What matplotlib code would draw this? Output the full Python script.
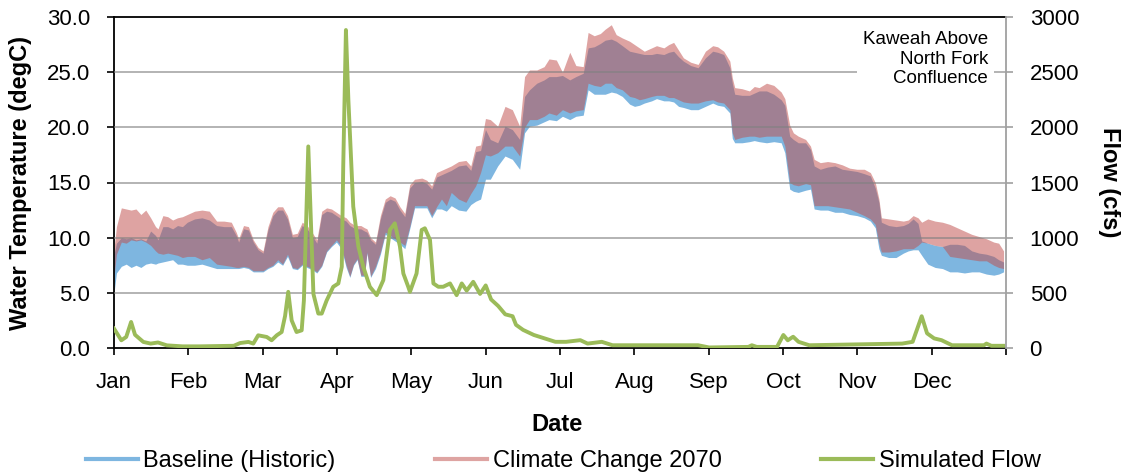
import matplotlib
matplotlib.use('Agg')
import matplotlib.pyplot as plt
from matplotlib.lines import Line2D

plt.rcParams['font.family'] = ['Liberation Sans', 'DejaVu Sans']

months = ['Jan', 'Feb', 'Mar', 'Apr', 'May', 'Jun',
          'Jul', 'Aug', 'Sep', 'Oct', 'Nov', 'Dec']

# daily temperature envelopes (degC), day of year
temp_day = [0, 1, 3, 5, 7, 9, 11, 13, 15, 17, 18, 20, 22, 24, 26, 28, 30, 33, 36, 39,
            42, 45, 48, 50, 51, 53, 55, 57, 59, 61, 63, 65, 67, 69, 71, 73, 75, 77, 79, 81,
            83, 85, 87, 89, 91, 93, 95, 96.5, 98, 99.5, 101, 102.5, 103.5, 105, 107, 109, 111, 113, 115, 117,
            119, 121, 123, 126, 128, 130, 132, 134, 136, 138, 141, 144, 146, 148, 150, 152, 154, 157, 160, 163,
            166, 168, 170, 173, 176, 178, 181, 183.5, 186.5, 189, 192, 194, 196.5, 199, 201, 203.5, 205.5, 208, 211, 213,
            215, 217, 220, 222, 225, 227, 229, 231, 233, 236, 239, 242, 245, 247, 249.5, 252, 253, 254, 257, 260,
            262, 264, 267, 270, 273, 274.5, 276.5, 278, 280, 283, 285, 286.5, 289, 292, 295, 298, 301, 304, 307, 309.5,
            311.5, 313, 314, 317, 320, 323, 325, 327, 329, 330.5, 333, 336, 339, 342, 345, 348, 351, 354, 357, 360,
            362, 364]
clim_hi = [9.0, 11.0, 12.7, 12.6, 12.5, 12.6, 12.1, 12.5, 11.8, 11.0, 10.8, 12.0, 11.9, 11.6, 11.8, 11.9, 12.1, 12.4, 12.5, 12.4,
           11.5, 11.5, 11.4, 10.5, 9.9, 11.1, 11.0, 9.8, 9.1, 8.8, 11.0, 12.3, 12.8, 12.8, 12.0, 10.3, 10.4, 11.4, 11.1, 10.5,
           9.8, 12.4, 12.7, 12.6, 12.3, 12.0, 11.8, 11.4, 11.2, 11.1, 11.1, 10.9, 10.8, 10.0, 9.6, 12.0, 13.5, 13.8, 13.6, 12.8,
           12.2, 14.8, 15.3, 15.4, 15.2, 14.7, 15.9, 16.1, 16.3, 16.5, 16.9, 17.0, 16.5, 18.3, 18.4, 20.8, 20.7, 20.1, 21.9, 21.6,
           20.1, 24.6, 25.2, 25.2, 25.5, 26.2, 26.1, 25.0, 26.8, 25.6, 25.5, 28.6, 28.3, 28.5, 28.9, 29.3, 28.4, 28.1, 27.8, 27.5,
           27.2, 26.9, 27.2, 27.4, 27.2, 27.5, 27.7, 27.0, 26.3, 25.9, 25.7, 26.9, 27.4, 27.3, 26.9, 26.0, 24.5, 23.6, 23.5, 23.3,
           23.7, 23.6, 24.0, 23.8, 23.2, 22.6, 20.2, 19.5, 19.2, 18.9, 18.3, 17.1, 16.8, 16.9, 16.8, 16.6, 16.3, 16.2, 16.2, 15.9,
           15.0, 13.5, 11.8, 11.7, 11.6, 11.5, 11.6, 12.0, 11.8, 11.4, 11.7, 11.5, 11.4, 11.2, 10.9, 10.6, 10.3, 10.1, 9.9, 9.6,
           9.5, 8.8]
base_hi = [8.5, 9.5, 10.0, 9.9, 10.0, 9.8, 9.9, 9.7, 10.6, 10.2, 9.8, 11.0, 11.0, 10.8, 11.1, 11.0, 11.4, 11.7, 11.8, 11.6,
           11.1, 11.0, 11.0, 10.2, 9.6, 10.8, 10.7, 9.6, 8.9, 8.6, 10.7, 12.0, 12.5, 12.5, 11.7, 10.0, 10.1, 11.1, 10.8, 10.2,
           9.5, 12.1, 12.4, 12.3, 12.0, 11.7, 11.5, 11.1, 10.9, 10.8, 10.8, 10.6, 10.5, 9.8, 9.4, 11.7, 13.2, 13.5, 13.3, 12.5,
           11.9, 14.5, 15.0, 15.1, 14.9, 14.4, 15.5, 15.7, 15.9, 16.1, 16.5, 16.6, 16.1, 17.8, 17.9, 19.8, 18.9, 18.6, 20.1, 19.8,
           18.9, 22.8, 23.4, 24.0, 24.3, 24.6, 24.6, 24.7, 24.3, 24.6, 24.9, 27.2, 27.3, 27.6, 27.9, 28.0, 27.8, 27.4, 26.9, 26.8,
           26.7, 26.6, 26.6, 26.7, 26.6, 26.8, 26.9, 26.4, 26.0, 25.6, 25.4, 26.3, 26.9, 26.8, 26.6, 25.4, 24.0, 23.0, 22.9, 22.9,
           23.1, 23.3, 23.3, 23.0, 22.5, 22.0, 19.2, 18.9, 18.6, 18.6, 18.0, 16.5, 16.2, 16.4, 16.5, 16.2, 16.1, 16.0, 15.8, 15.6,
           14.5, 13.2, 11.4, 11.1, 11.0, 11.1, 11.3, 11.7, 11.3, 9.7, 9.5, 9.3, 9.2, 9.4, 9.4, 9.3, 8.8, 8.6, 8.5, 8.3,
           8.0, 7.8]
clim_lo = [6.5, 8.5, 9.6, 9.5, 9.8, 9.7, 9.8, 9.6, 9.3, 8.8, 8.6, 8.5, 8.6, 8.5, 8.4, 8.2, 8.3, 8.3, 8.0, 8.2,
           7.6, 7.5, 7.4, 7.3, 7.3, 7.4, 7.3, 7.0, 7.0, 7.0, 7.3, 7.5, 8.0, 7.6, 8.5, 7.3, 7.2, 7.6, 7.4, 7.2,
           6.9, 7.5, 8.8, 9.3, 9.8, 9.2, 7.5, 6.5, 7.6, 8.1, 6.6, 6.6, 8.7, 6.5, 7.4, 8.7, 10.5, 10.2, 9.9, 9.6,
           9.3, 11.0, 12.9, 12.9, 12.9, 12.0, 12.8, 13.5, 12.9, 14.1, 13.5, 13.2, 14.0, 14.7, 15.9, 17.5, 17.4, 17.7, 18.3, 18.3,
           17.4, 20.0, 20.7, 20.7, 21.0, 21.3, 21.1, 21.6, 21.3, 21.5, 21.6, 24.0, 23.8, 23.7, 24.0, 24.0, 23.6, 23.4, 22.8, 22.7,
           22.5, 22.6, 22.8, 22.9, 22.9, 22.7, 22.7, 22.5, 22.3, 22.2, 22.2, 22.4, 22.5, 22.3, 22.2, 21.6, 19.5, 18.9, 19.1, 19.2,
           19.2, 19.1, 19.2, 19.2, 19.2, 18.3, 15.0, 14.8, 14.7, 14.9, 14.8, 12.9, 12.9, 12.9, 12.8, 12.7, 12.6, 12.3, 12.0, 11.7,
           11.2, 9.5, 8.7, 8.7, 8.8, 9.0, 9.0, 9.0, 9.3, 9.6, 9.5, 9.3, 9.2, 8.3, 8.2, 8.1, 8.0, 7.9, 7.9, 7.5,
           7.3, 7.2]
base_lo = [5.0, 6.8, 7.4, 7.6, 7.3, 7.5, 7.3, 7.6, 7.7, 7.6, 7.7, 7.8, 7.9, 8.0, 7.6, 7.6, 7.5, 7.5, 7.6, 7.4,
           7.2, 7.2, 7.2, 7.2, 7.2, 7.3, 7.2, 6.9, 6.9, 6.9, 7.2, 7.4, 7.8, 7.5, 8.3, 7.2, 7.1, 7.5, 7.3, 7.1,
           6.8, 7.4, 8.7, 9.2, 9.6, 9.0, 7.3, 6.4, 7.5, 8.0, 6.5, 6.5, 8.6, 6.4, 7.2, 8.5, 10.3, 10.0, 9.7, 9.4,
           9.0, 10.8, 12.7, 12.7, 12.7, 11.8, 12.6, 12.6, 12.4, 12.9, 12.5, 12.4, 13.0, 13.3, 13.5, 15.3, 15.3, 16.5, 17.4, 17.1,
           16.2, 19.5, 20.1, 20.2, 20.5, 20.7, 20.6, 21.0, 20.7, 21.0, 21.1, 23.4, 23.0, 23.0, 23.0, 23.2, 23.1, 22.8, 22.1, 21.9,
           22.0, 22.2, 22.4, 22.6, 22.4, 22.4, 22.3, 21.9, 21.8, 21.6, 21.6, 21.9, 22.2, 22.0, 21.9, 21.3, 19.0, 18.6, 18.6, 18.7,
           18.8, 18.7, 18.6, 18.7, 18.6, 17.7, 14.4, 14.2, 14.1, 14.3, 14.4, 12.6, 12.5, 12.5, 12.3, 12.3, 12.1, 12.0, 11.8, 11.5,
           10.9, 9.0, 8.4, 8.2, 8.2, 8.6, 8.8, 8.9, 8.9, 8.4, 7.6, 7.3, 7.2, 6.9, 6.9, 6.8, 6.9, 6.9, 6.7, 6.6,
           6.7, 6.9]

# simulated flow (cfs)
flow_day = [0, 3, 5, 7, 8.6, 12, 15, 18, 21.6, 28, 35, 49, 51.6, 55, 57, 59, 62.5, 64.5, 66.6, 68.6,
            70, 71.3, 72.7, 74.7, 76.8, 77.7, 79.5, 81.6, 83.6, 85, 87, 89.7, 91.8, 93.2, 93.8, 94.9, 95.9, 97.9, 100, 102,
            104.7, 107.5, 110.2, 112.9, 114.9, 117, 118.4, 120.4, 121.1, 123.8, 125.9, 127.2, 129.3, 130.7, 132.7, 134.7, 137.5, 140.2, 142.3, 144.3,
            147, 149.8, 152.1, 154.3, 157.2, 160.1, 163.1, 164.5, 167.4, 171.8, 176.2, 180.6, 185, 190.8, 193.8, 199.6, 204, 239, 243.5, 259.6,
            261, 263, 271.3, 273.9, 275.7, 277.9, 280.1, 284.5, 322.5, 326.8, 330.5, 332.7, 335.6, 338.6, 342.9, 356, 357, 359, 364]
flow_cfs = [176, 70, 100, 236, 120, 55, 40, 50, 24, 15, 15, 20, 45, 55, 40, 115, 100, 70, 115, 145,
            290, 509, 250, 145, 160, 430, 1827, 490, 312, 312, 430, 555, 585, 736, 1645, 2882, 2250, 1282, 920, 736,
            555, 479, 615, 1070, 1130, 920, 675, 555, 509, 675, 1070, 1085, 980, 585, 555, 555, 585, 479, 585, 520,
            600, 490, 567, 440, 381, 305, 288, 210, 164, 118, 87, 56, 56, 71, 40, 56, 25, 25, 5, 10,
            25, 10, 10, 118, 70, 102, 56, 25, 40, 56, 288, 133, 87, 71, 25, 25, 40, 20, 20]

blue = '#7EB6E0'
red = '#C0504D'
green = '#9BBB59'

fig = plt.figure(figsize=(11.21, 4.74), dpi=100)
ax = fig.add_axes([114 / 1121, 1 - 348 / 474, 892 / 1121, 331 / 474])

ax.fill_between(temp_day, base_lo, base_hi, color=blue, lw=0, zorder=1)
ax.fill_between(temp_day, clim_lo, clim_hi, color=red, alpha=0.52, lw=0, zorder=2)
for y in range(5, 30, 5):
    ax.axhline(y, color='#808080', lw=1.1, alpha=0.75, zorder=3)

ax.set_xlim(0, 365)
ax.set_ylim(0, 30)
ax.set_xticks([i * 365 / 12 for i in range(13)])
ax.set_xticklabels(months + [''])
ax.set_yticks(range(0, 31, 5))
ax.set_yticklabels(['%.1f' % v for v in range(0, 31, 5)])
ax.tick_params(direction='out', length=5, width=1.2, labelsize=16, pad=12, colors='black')
for side in ['left', 'bottom', 'top']:
    ax.spines[side].set_color('black')
    ax.spines[side].set_linewidth(1.3)
ax.spines['right'].set_visible(False)

# location note
ax.text(0.98, 0.957, 'Kaweah Above\nNorth Fork\nConfluence', transform=ax.transAxes,
        ha='right', va='top', multialignment='right', fontsize=13.5, linespacing=1.2,
        bbox=dict(fc='white', ec='none', pad=4), zorder=4)

ax.set_ylabel('Water Temperature (degC)', fontsize=17, fontweight='bold')
ax.yaxis.set_label_coords(-0.092, 0.5)
ax.set_xlabel('Date', fontsize=17, fontweight='bold')
ax.xaxis.set_label_coords(0.497, -0.196)

ax2 = ax.twinx()
ax2.plot(flow_day, flow_cfs, color=green, lw=2.8, solid_joinstyle='round')
ax2.set_ylim(0, 3000)
ax2.set_yticks(range(0, 3001, 500))
ax2.tick_params(direction='out', length=5, width=1.2, labelsize=16, pad=12,
                color='#A0A0A0', labelcolor='black')
for side in ['left', 'bottom', 'top']:
    ax2.spines[side].set_visible(False)
ax2.spines['right'].set_color('#A0A0A0')
ax2.spines['right'].set_linewidth(1.3)
ax2.set_ylabel('Flow (cfs)', fontsize=17, fontweight='bold', rotation=270, va='bottom')
ax2.yaxis.set_label_coords(1.103, 0.5)

handles = [Line2D([], [], color=blue, lw=3),
           Line2D([], [], color='#DEA4A2', lw=3),
           Line2D([], [], color=green, lw=3)]
fig.legend(handles, ['Baseline (Historic)', 'Climate Change 2070', 'Simulated Flow'],
           loc='center', bbox_to_anchor=(563 / 1121, 1 - 461 / 474), ncol=3, frameon=False,
           fontsize=17, handlelength=2.2, handletextpad=0.25, columnspacing=4.2,
           borderaxespad=0, borderpad=0)

fig.savefig('out.png', dpi=100)
